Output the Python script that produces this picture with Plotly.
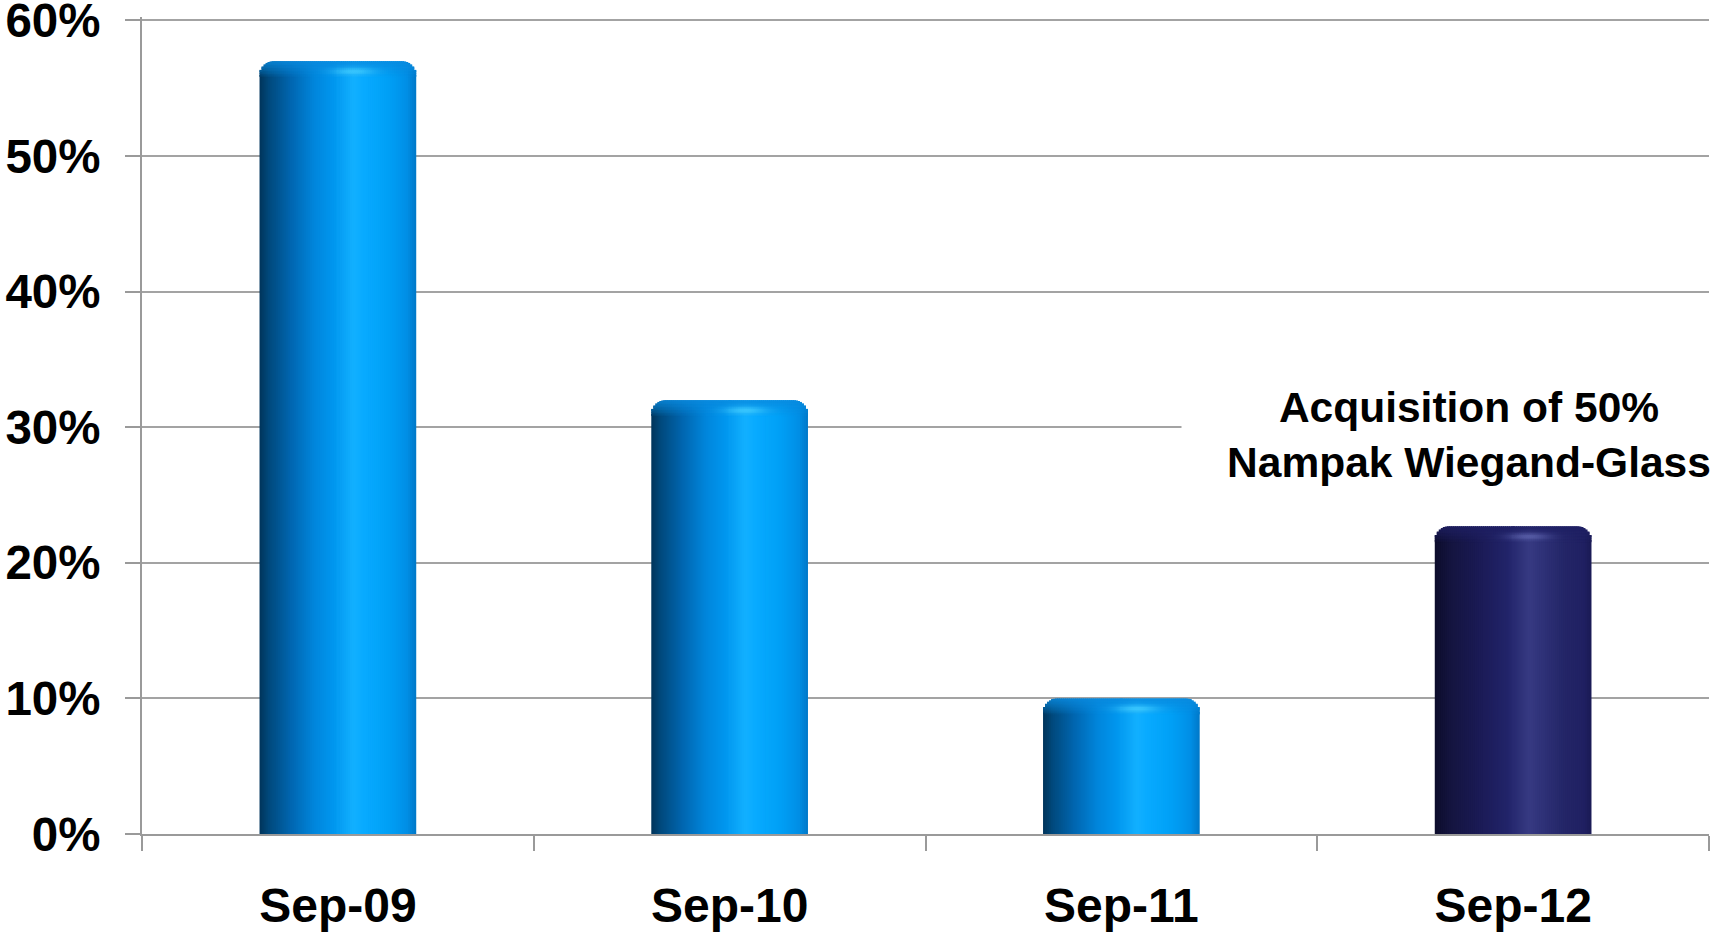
import math
import plotly.graph_objects as go

# ---- data ---------------------------------------------------------------
categories = ["Sep-09", "Sep-10", "Sep-11", "Sep-12"]
growth_pct = [57.0, 32.0, 10.0, 22.7]
bar_finish = ["organic", "organic", "organic", "acquisition"]
y_tick_values = [0, 10, 20, 30, 40, 50, 60]
y_tick_labels = ["0%", "10%", "20%", "30%", "40%", "50%", "60%"]
note_lines = ["Acquisition of 50%", "Nampak Wiegand-Glass"]

# ---- page geometry ------------------------------------------------------
W, H = 1711, 937
Y_MAX = 60
Y_TOP = 60.25                    # a little headroom so the 60% gridline shows
px_y = 814 / Y_MAX               # pixels per percentage point
M_L, M_R, M_B = 142, 2, 103
M_T = 20 - (Y_TOP - Y_MAX) * px_y
BAR_W = 0.4                      # bar width in category units
plot_w = W - M_L - M_R
px_x = plot_w / len(categories)  # pixels per category unit

FONT = "Liberation Sans, Arial, Helvetica, sans-serif"
GRID = "#a3a3a3"
AXIS = "#9a9a9a"

# ---- cylinder shading ---------------------------------------------------
SIDE = {
    "organic": [
        (0.00, "#00345a"), (0.06, "#00497c"), (0.20, "#0066b0"),
        (0.35, "#0086dc"), (0.47, "#0096ee"), (0.60, "#12b0ff"),
        (0.67, "#08aaff"), (0.82, "#00a0f6"), (0.94, "#008fe6"),
        (1.00, "#0078c8"),
    ],
    "acquisition": [
        (0.00, "#0d0d2c"), (0.10, "#14143f"), (0.30, "#1b1b57"),
        (0.47, "#22246a"), (0.60, "#373a82"), (0.67, "#30337a"),
        (0.82, "#242668"), (0.95, "#202062"), (1.00, "#1a1a54"),
    ],
}
CAP_TINT = {"organic": "#0a8ade", "acquisition": "#1f2064"}
CAP_GLOW = {"organic": "#40ccff", "acquisition": "#5c62ac"}


def hex_rgb(h):
    h = h.lstrip("#")
    return tuple(int(h[i:i + 2], 16) for i in (0, 2, 4))


def mix(a, b, t):
    return tuple(a[i] + (b[i] - a[i]) * t for i in range(3))


def side_colour(stops, u):
    for (u0, c0), (u1, c1) in zip(stops, stops[1:]):
        if u <= u1:
            t = 0 if u1 == u0 else (u - u0) / (u1 - u0)
            return mix(hex_rgb(c0), hex_rgb(c1), t)
    return hex_rgb(stops[-1][1])


def css(c):
    return "rgb(%d,%d,%d)" % tuple(int(round(v)) for v in c)


NCOL = 78
NROW = 10
CAP_PX = 15.0
RADIUS_PX = 14.0
col_w = BAR_W / NCOL
col_px = col_w * px_x
row_px = CAP_PX / NROW
ov_x = 1.0 / px_x
ov_y = 1.0 / px_y

# columns are painted from each edge towards the centre so overlaps hide seams
half = NCOL // 2
col_order = list(range(half)) + list(range(NCOL - 1, half - 1, -1))


def col_geom(i):
    off = -BAR_W / 2 + i * col_w
    wd = col_w
    if i < half:
        wd += ov_x
    else:
        off -= ov_x
        wd += ov_x
    return off, wd


body = dict(x=[], y=[], base=[], offset=[], width=[], color=[])
cap = dict(x=[], y=[], base=[], offset=[], width=[], color=[])

for cat, val, finish in zip(categories, growth_pct, bar_finish):
    stops = SIDE[finish]
    tint = hex_rgb(CAP_TINT[finish])
    glow = hex_rgb(CAP_GLOW[finish])
    top_body = val - CAP_PX / px_y
    for i in col_order:
        u = (i + 0.5) / NCOL
        off, wd = col_geom(i)
        body["x"].append(cat)
        body["base"].append(0)
        body["y"].append(top_body + ov_y)
        body["offset"].append(off)
        body["width"].append(wd)
        body["color"].append(css(side_colour(stops, u)))
    for j in range(NROW - 1, -1, -1):
        v = (j + 0.5) / NROW
        for i in col_order:
            u = (i + 0.5) / NCOL
            d = min(i + 0.5, NCOL - i - 0.5) * col_px
            drop = 0.0
            if d < RADIUS_PX:
                drop = RADIUS_PX - math.sqrt(max(RADIUS_PX ** 2 - (RADIUS_PX - d) ** 2, 0))
            top_px = max(j * row_px, drop)
            bot_px = (j + 1) * row_px
            if top_px >= bot_px:
                continue
            bot_px += 1.0
            c = side_colour(stops, u)
            c = mix(c, tint, 0.8 * (1 - v) ** 0.8)
            g = math.exp(-((u - 0.6) / 0.13) ** 2 - ((v - 0.62) / 0.24) ** 2)
            c = mix(c, glow, 0.85 * g)
            off, wd = col_geom(i)
            cap["x"].append(cat)
            cap["base"].append(val - bot_px / px_y)
            cap["y"].append((bot_px - top_px) / px_y)
            cap["offset"].append(off)
            cap["width"].append(wd)
            cap["color"].append(css(c))

fig = go.Figure()
for part in (body, cap):
    fig.add_trace(go.Bar(
        x=part["x"], y=part["y"], base=part["base"],
        offset=part["offset"], width=part["width"],
        marker=dict(color=part["color"], line=dict(width=0)),
        hoverinfo="skip", showlegend=False,
    ))

tick_font = dict(family=FONT, size=48, color="black", weight="bold")

fig.update_layout(
    width=W, height=H,
    margin=dict(l=M_L, r=M_R, t=M_T, b=M_B, pad=0, autoexpand=False),
    paper_bgcolor="white", plot_bgcolor="white",
    barmode="overlay",
    xaxis=dict(
        type="category", categoryorder="array", categoryarray=categories,
        range=[-0.5, len(categories) - 0.5], automargin=False,
        showline=True, linecolor=AXIS, linewidth=2,
        ticks="outside", ticklen=15, tickwidth=2, tickcolor=AXIS,
        tickson="boundaries", showgrid=False, zeroline=False,
        tickfont=tick_font, ticklabelstandoff=28,
    ),
    yaxis=dict(
        range=[0, Y_TOP], tickvals=y_tick_values, ticktext=y_tick_labels,
        automargin=False, ticklabeloverflow="allow",
        showgrid=True, gridcolor=GRID, gridwidth=2,
        showline=True, linecolor=AXIS, linewidth=2,
        ticks="outside", ticklen=15, tickwidth=2, tickcolor=AXIS,
        zeroline=False, tickfont=dict(tick_font, size=47.5),
        ticklabelstandoff=15,
    ),
    annotations=[dict(
        xref="paper", yref="paper", x=0.8468,
        y=(Y_MAX * 0.4908) / Y_TOP,
        xanchor="center", yanchor="middle",
        text="<br>".join(note_lines), showarrow=False, align="center",
        font=dict(family=FONT, size=42.5, color="black", weight="bold"),
        bgcolor="white", width=572, height=112, borderpad=1,
    )],
)

fig.write_html("out.html")
